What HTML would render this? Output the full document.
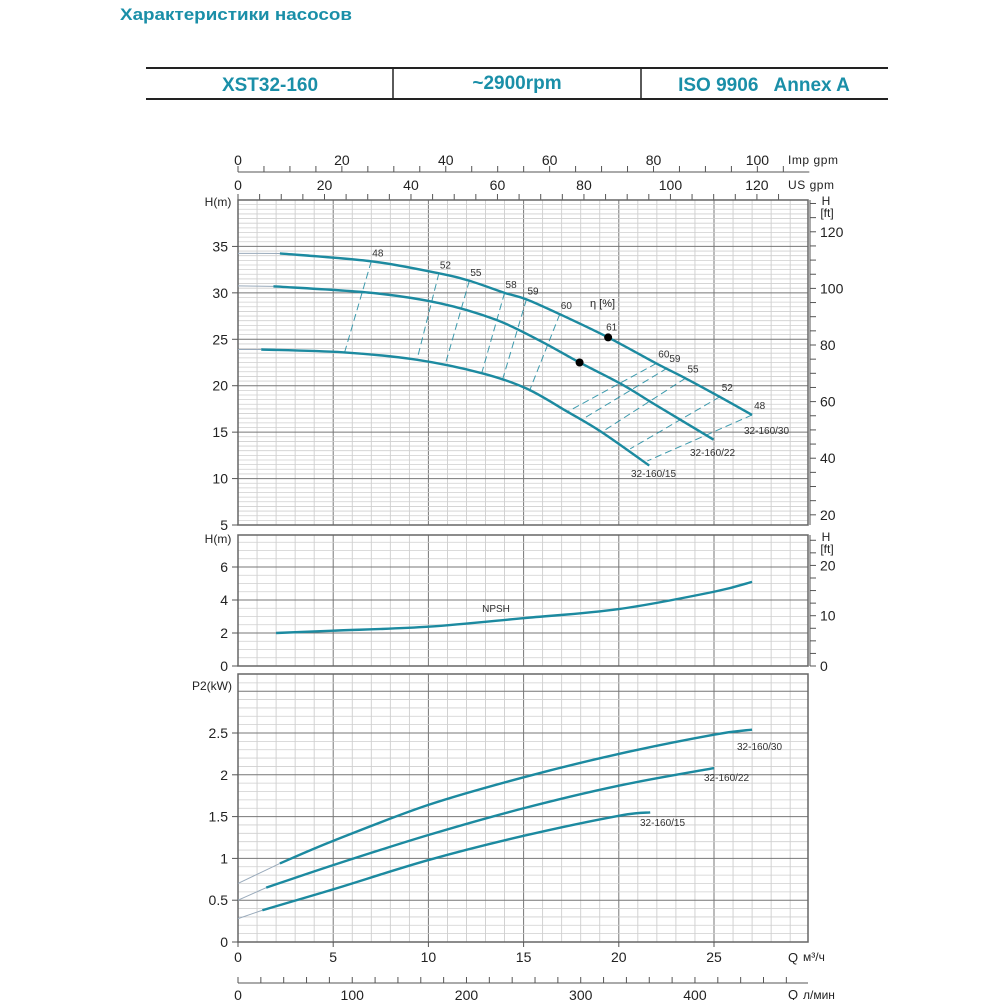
<!DOCTYPE html>
<html><head><meta charset="utf-8">
<style>
html,body{margin:0;padding:0;background:#fff;width:1000px;height:1000px;overflow:hidden}
svg{display:block}
text{font-family:"Liberation Sans","DejaVu Sans",sans-serif}
</style></head>
<body>
<svg id="chart" width="1000" height="1000" viewBox="0 0 1000 1000" xmlns="http://www.w3.org/2000/svg">
<text x="120" y="20" font-size="17" font-weight="bold" fill="#1a8fa8" font-family="Liberation Sans, DejaVu Sans, sans-serif" textLength="232" lengthAdjust="spacingAndGlyphs">Характеристики насосов</text>
<g>
<line x1="146" y1="68" x2="888" y2="68" stroke="#222" stroke-width="2"/>
<line x1="146" y1="99" x2="888" y2="99" stroke="#222" stroke-width="2"/>
<line x1="393" y1="68" x2="393" y2="99" stroke="#222" stroke-width="1.5"/>
<line x1="641" y1="68" x2="641" y2="99" stroke="#222" stroke-width="1.5"/>
<text x="270" y="91" font-size="19" font-weight="bold" fill="#1a8fa8" text-anchor="middle">XST32-160</text>
<text x="517" y="89" font-size="19" font-weight="bold" fill="#1a8fa8" text-anchor="middle">~2900rpm</text>
<text x="764" y="91" font-size="19" font-weight="bold" fill="#1a8fa8" text-anchor="middle" xml:space="preserve">ISO 9906   Annex A</text>
</g>
</svg>
<script>
// ---- data ----
const qMax = 29.4;
const headQ30 = [0, 2.2, 7.0, 10.55, 12.15, 14.0, 15.15, 16.9, 19.44, 21.97, 23.5, 25.3, 27.0];
const headH30 = [34.25, 34.24, 33.4, 32.1, 31.3, 30.0, 29.3, 27.7, 25.2, 22.4, 20.8, 18.8, 16.85];
const headQ22 = [0, 1.86, 7.0, 10.55, 13.55, 15.9, 17.94, 20.2, 21.8, 24.97];
const headH22 = [30.75, 30.7, 30.0, 28.9, 27.1, 24.8, 22.5, 20.1, 18.1, 14.2];
const headQ15 = [0, 1.22, 5.5, 9.37, 12.8, 15.15, 17.3, 19.1, 21.6];
const headH15 = [23.9, 23.9, 23.6, 22.8, 21.35, 19.7, 17.2, 15.0, 11.4];
const bepQ = [19.44, 17.94];
const bepH = [25.2, 22.5];
// efficiency iso-lines: from 32-160/30 to 32-160/15
const effLabels = ["48","52","55","58","59","60","60","59","55","52","48"];
const effQ1 = [7.0, 10.55, 12.15, 14.0, 15.15, 16.9, 21.97, 22.55, 23.5, 25.3, 27.0];
const effH1 = [33.4, 32.1, 31.3, 30.0, 29.3, 27.7, 22.4, 21.9, 20.8, 18.8, 16.85];
const effQ2 = [5.6, 9.4, 10.9, 12.8, 13.9, 15.3, 17.3, 18.1, 19.1, 20.6, 21.5];
const effH2 = [23.6, 22.8, 22.4, 21.35, 20.7, 19.4, 17.2, 16.4, 15.0, 13.2, 11.9];
const npshQ = [2, 5, 10, 15, 20, 25, 27];
const npshH = [2.0, 2.14, 2.38, 2.9, 3.45, 4.5, 5.1];
const powQ30 = [0, 2.2, 5, 10, 15, 20, 25, 27];
const powP30 = [0.70, 0.94, 1.21, 1.64, 1.97, 2.25, 2.48, 2.54];
const powQ22 = [0, 1.48, 5, 10, 15, 20, 25];
const powP22 = [0.50, 0.65, 0.92, 1.28, 1.60, 1.87, 2.08];
const powQ15 = [0, 1.28, 5, 10, 15, 20, 21.65];
const powP15 = [0.28, 0.38, 0.63, 0.98, 1.27, 1.51, 1.55];
const qTicks = [0, 5, 10, 15, 20, 25];
const lminTicks = [0, 100, 200, 300, 400];
const impTicks = [0, 20, 40, 60, 80, 100];
const usTicks = [0, 20, 40, 60, 80, 100, 120];
const hTicks = [5, 10, 15, 20, 25, 30, 35];
const hFtTicks = [20, 40, 60, 80, 100, 120];
const npshTicks = [0, 2, 4, 6];
const npshFtTicks = [0, 10, 20];
const powTicks = [0, 0.5, 1, 1.5, 2, 2.5];
const powTickLabels = ["0","0.5","1","1.5","2","2.5"];

// ---- scales ----
const X0 = 238, XPU = 19.04, XR = 808;
const xQ = q => X0 + q * XPU;
const yH = h => 525 - (h - 5) * 9.286;       // top plot
const yN = h => 666 - h * 16.5;               // npsh plot
const yP = p => 942 - p * 83.6;               // power plot
const FT = 0.3048;
const TEAL = "#1c8aa0";
const svg = document.getElementById('chart');
const NS = "http://www.w3.org/2000/svg";
function mk(tag, attrs, parent) {
  const e = document.createElementNS(NS, tag);
  for (const k in attrs) e.setAttribute(k, attrs[k]);
  (parent || svg).appendChild(e);
  return e;
}
function txt(x, y, s, size, anchor, parent, fill) {
  const t = mk('text', {x: x, y: y, 'font-size': size, 'text-anchor': anchor || 'middle', fill: fill || '#222'}, parent);
  t.textContent = s;
  return t;
}
function smooth(pts) {
  let d = `M${pts[0][0]},${pts[0][1]}`;
  for (let i = 0; i < pts.length - 1; i++) {
    const p0 = pts[Math.max(0, i - 1)], p1 = pts[i], p2 = pts[i + 1], p3 = pts[Math.min(pts.length - 1, i + 2)];
    const c1 = [p1[0] + (p2[0] - p0[0]) / 6, p1[1] + (p2[1] - p0[1]) / 6];
    const c2 = [p2[0] - (p3[0] - p1[0]) / 6, p2[1] - (p3[1] - p1[1]) / 6];
    d += ` C${c1[0]},${c1[1]} ${c2[0]},${c2[1]} ${p2[0]},${p2[1]}`;
  }
  return d;
}
function grid(g, yTop, yBot, yFn, minorStep, majorStep, vMin, vMax) {
  for (let q = 1; q <= 29; q++) {
    const l = mk('line', {x1: xQ(q), y1: yTop, x2: xQ(q), y2: yBot, stroke: q % 5 === 0 ? '#777' : '#c8c8c8', 'stroke-width': q % 5 === 0 ? 1 : 0.8}, g);
  }
  for (let v = vMin; v <= vMax + 1e-9; v += minorStep) {
    const y = yFn(v);
    if (y < yTop + 1 || y > yBot - 1) continue;
    const maj = Math.abs(v / majorStep - Math.round(v / majorStep)) < 1e-6;
    mk('line', {x1: X0, y1: y, x2: XR, y2: y, stroke: maj ? '#777' : '#cfcfcf', 'stroke-width': maj ? 1 : 0.8}, g);
  }
  mk('rect', {x: X0, y: yTop, width: XR - X0, height: yBot - yTop, fill: 'none', stroke: '#666', 'stroke-width': 1.5}, g);
}
function curve(g, qs, vs, yFn, name, faintTo) {
  const pts = qs.map((q, i) => [xQ(q), yFn(vs[i])]);
  const faint = mk('path', {d: smooth(pts.slice(0, 2)), fill: 'none', stroke: '#9ab', 'stroke-width': 1}, g);
  
  
  const p = mk('path', {d: smooth(pts.slice(1)), fill: 'none', stroke: TEAL, 'stroke-width': 2.4}, g);
  
  
}

// ---- top axes (gpm) ----
const gAx = mk('g', {});


const IMP = 3.666, USG = 4.403;
mk('line', {x1: X0, y1: 172, x2: xQ(110 / IMP), y2: 172, stroke: '#555', 'stroke-width': 1}, gAx);
for (let v = 0; v <= 105; v += 5) mk('line', {x1: xQ(v / IMP), y1: 172, x2: xQ(v / IMP), y2: 166, stroke: '#555'}, gAx);
impTicks.forEach(v => txt(xQ(v / IMP), 165, String(v), 14, 'middle', gAx));
txt(788, 164, 'Imp gpm', 12, 'start', gAx).setAttribute('textLength', '50');
for (let v = 0; v <= 127; v += 5) mk('line', {x1: xQ(v / USG), y1: 200, x2: xQ(v / USG), y2: 194, stroke: '#555'}, gAx);
usTicks.forEach(v => txt(xQ(v / USG), 190, String(v), 14, 'middle', gAx));
txt(788, 189, 'US gpm', 12, 'start', gAx).setAttribute('textLength', '46');

// ---- head plot ----
const gH = mk('g', {});


grid(gH, 200, 525, yH, 0.5, 5, 4.5, 40);
txt(218, 206, 'H(m)', 12, 'middle', gH);
hTicks.forEach(h => { txt(228, yH(h) + 5, String(h), 14, 'end', gH); mk('line', {x1: 232, y1: yH(h), x2: X0, y2: yH(h), stroke: '#555'}, gH); });
mk('line', {x1: 810, y1: 200, x2: 810, y2: 525, stroke: '#555'}, gH);
for (let f = 20; f <= 130; f += 5) { const y = yH(f * FT); if (y >= 200 && y <= 525) mk('line', {x1: 810, y1: y, x2: 816, y2: y, stroke: '#555'}, gH); }
hFtTicks.forEach(f => txt(820, yH(f * FT) + 5, String(f), 14, 'start', gH));
txt(826, 205, 'H', 12, 'middle', gH);
txt(827, 217, '[ft]', 12, 'middle', gH);
// efficiency lines
effLabels.forEach((lab, i) => {
  const l = mk('line', {x1: xQ(effQ1[i]), y1: yH(effH1[i]), x2: xQ(effQ2[i]), y2: yH(effH2[i]), stroke: TEAL, 'stroke-width': 1, 'stroke-dasharray': '7,4', opacity: 0.85}, gH);
  
  
  const right = i >= 6;
  const t = txt(xQ(effQ1[i]) + (right ? 2 : 1), yH(effH1[i]) - (right ? 6 : 5), lab, 10, 'start', gH, '#333');
  
  
});
curve(gH, headQ30, headH30, yH, 'head-curve-30');
curve(gH, headQ22, headH22, yH, 'head-curve-22');
curve(gH, headQ15, headH15, yH, 'head-curve-15');
bepQ.forEach((q, i) => {
  const c = mk('circle', {cx: xQ(q), cy: yH(bepH[i]), r: 4, fill: '#000'}, gH);
  
  
});
txt(xQ(19.44) - 2, yH(25.2) - 7, '61', 10, 'start', gH, '#333');
txt(590, 307, 'η [%]', 11, 'start', gH);
txt(744, 434, '32-160/30', 10, 'start', gH, '#333');
txt(690, 456, '32-160/22', 10, 'start', gH, '#333');
txt(631, 477, '32-160/15', 10, 'start', gH, '#333');

// ---- NPSH plot ----
const gN = mk('g', {});


grid(gN, 535, 666, yN, 0.5, 2, 0, 8);
txt(218, 543, 'H(m)', 12, 'middle', gN);
npshTicks.forEach(h => { txt(228, yN(h) + 5, String(h), 14, 'end', gN); mk('line', {x1: 232, y1: yN(h), x2: X0, y2: yN(h), stroke: '#555'}, gN); });
mk('line', {x1: 810, y1: 535, x2: 810, y2: 666, stroke: '#555'}, gN);
for (let f = 0; f <= 25; f += 2.5) { const y = yN(f * FT); if (y >= 535) mk('line', {x1: 810, y1: y, x2: 816, y2: y, stroke: '#555'}, gN); }
npshFtTicks.forEach(f => txt(820, yN(f * FT) + 5, String(f), 14, 'start', gN));
txt(826, 541, 'H', 12, 'middle', gN);
txt(827, 553, '[ft]', 12, 'middle', gN);
(function(){
  const pts = npshQ.map((q, i) => [xQ(q), yN(npshH[i])]);
  const p = mk('path', {d: smooth(pts), fill: 'none', stroke: TEAL, 'stroke-width': 2.4}, gN);
  
  
})();
txt(496, 612, 'NPSH', 10, 'middle', gN, '#333');

// ---- power plot ----
const gP = mk('g', {});


grid(gP, 674, 942, yP, 0.1, 0.5, 0, 3.2);
txt(212, 690, 'P2(kW)', 12, 'middle', gP);
powTicks.forEach((p, i) => { txt(228, yP(p) + 5, powTickLabels[i], 14, 'end', gP); mk('line', {x1: 232, y1: yP(p), x2: X0, y2: yP(p), stroke: '#555'}, gP); });
curve(gP, powQ30, powP30, yP, 'power-curve-30');
curve(gP, powQ22, powP22, yP, 'power-curve-22');
curve(gP, powQ15, powP15, yP, 'power-curve-15');
txt(737, 750, '32-160/30', 10, 'start', gP, '#333');
txt(704, 781, '32-160/22', 10, 'start', gP, '#333');
txt(640, 826, '32-160/15', 10, 'start', gP, '#333');
for (let q = 0; q <= 29; q += 5) mk('line', {x1: xQ(q), y1: 942, x2: xQ(q), y2: 947, stroke: '#555'}, gP);

// ---- bottom axes ----
const gB = mk('g', {});


qTicks.forEach(q => txt(xQ(q), 962, String(q), 14, 'middle', gB));
txt(793, 962, 'Q', 13, 'middle', gB);
txt(803, 961, 'м³/ч', 12, 'start', gB);
mk('line', {x1: X0, y1: 983, x2: XR, y2: 983, stroke: '#555'}, gB);
for (let v = 0; v <= 500; v += 20) { const x = xQ(v * 0.06); if (x <= XR + 1) mk('line', {x1: x, y1: 983, x2: x, y2: 977, stroke: '#555'}, gB); }
lminTicks.forEach(v => txt(xQ(v * 0.06), 1000, String(v), 14, 'middle', gB));
txt(793, 999, 'Q', 13, 'middle', gB);
txt(803, 999, 'л/мин', 12, 'start', gB);
</script>
</body></html>
